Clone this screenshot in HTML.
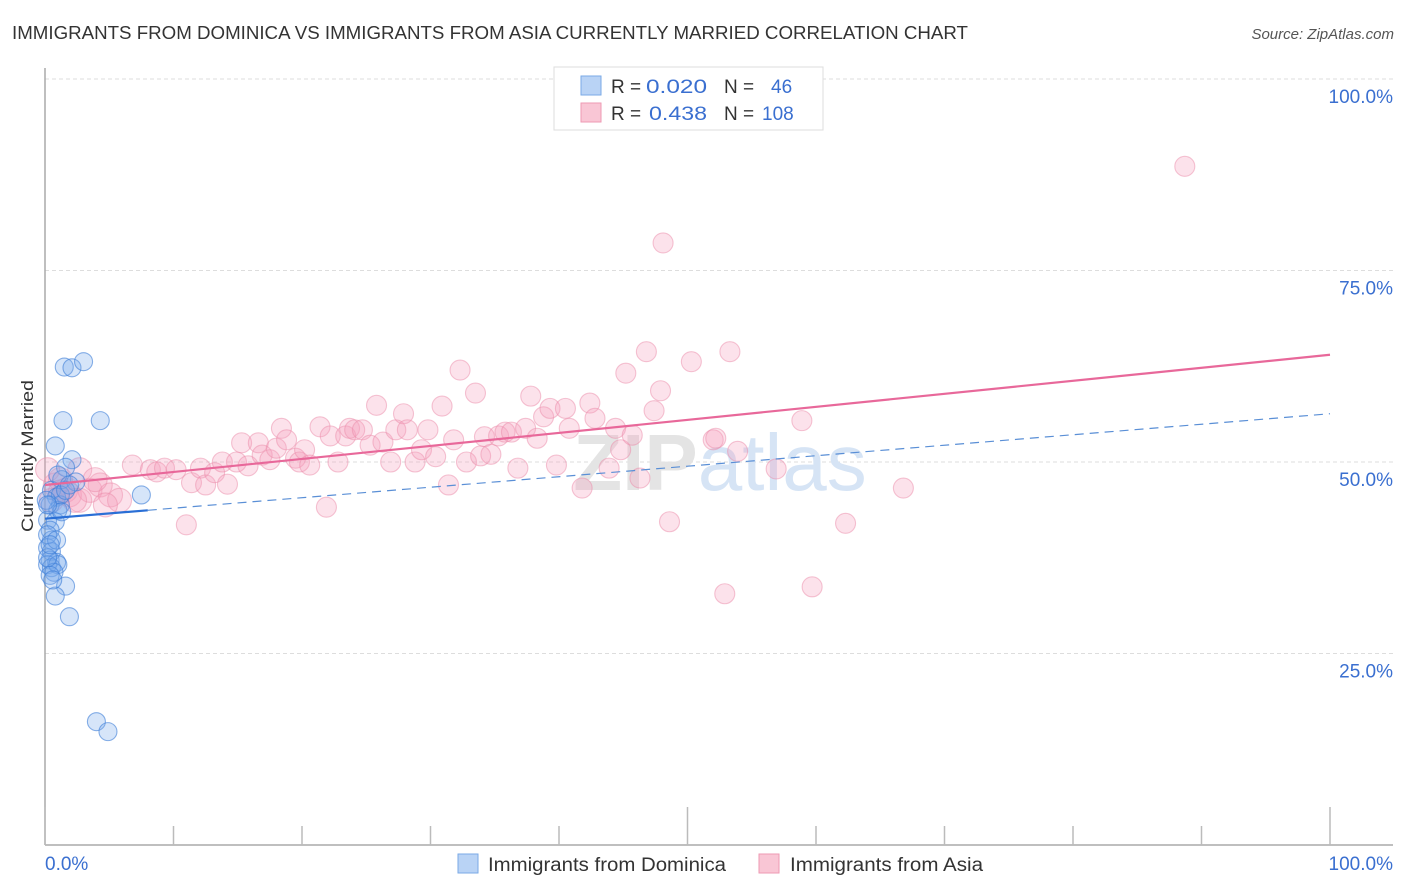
<!DOCTYPE html>
<html><head><meta charset="utf-8"><style>
body{margin:0;background:#fff;font-family:"Liberation Sans",sans-serif}
svg{display:block}
</style></head><body>
<svg id="chart" width="1406" height="892" viewBox="0 0 1406 892" xmlns="http://www.w3.org/2000/svg">
<text x="12" y="39" font-size="18" fill="#333" textLength="956" lengthAdjust="spacingAndGlyphs">IMMIGRANTS FROM DOMINICA VS IMMIGRANTS FROM ASIA CURRENTLY MARRIED CORRELATION CHART</text>
<text x="1394" y="39" font-size="15" fill="#555" font-style="italic" text-anchor="end">Source: ZipAtlas.com</text>
<text transform="translate(33,456) rotate(-90)" font-size="17" fill="#333" text-anchor="middle" textLength="152" lengthAdjust="spacingAndGlyphs">Currently Married</text>
<g id="grid"></g>
<text x="720" y="490" font-size="80" text-anchor="middle" fill="#e4e4e4" font-weight="bold">ZIP<tspan fill="#d6e4f5" font-weight="normal">atlas</tspan></text>
<g id="marks"></g>
<g id="lines"></g>
<g>
<rect x="554" y="67" width="269" height="63" fill="#fff" stroke="#ddd"/>
<rect x="581" y="76" width="20" height="19" fill="#b9d3f5" stroke="#7aa9e6"/>
<rect x="581" y="103" width="20" height="19" fill="#f9c6d5" stroke="#ee9ab3"/>
<text x="611" y="93" font-size="19" fill="#333">R = <tspan x="646" fill="#3a6fd0" textLength="61" lengthAdjust="spacingAndGlyphs">0.020</tspan><tspan x="724">N = </tspan><tspan x="771" fill="#3a6fd0">46</tspan></text>
<text x="611" y="120" font-size="19" fill="#333">R = <tspan fill="#3a6fd0" x="649" textLength="58" lengthAdjust="spacingAndGlyphs">0.438</tspan><tspan x="724">N = </tspan><tspan x="762" fill="#3a6fd0">108</tspan></text>
</g>
<g>
<rect x="458" y="854" width="20" height="19" fill="#b9d3f5" stroke="#7aa9e6"/>
<text x="488" y="871" font-size="19" fill="#333" textLength="238" lengthAdjust="spacingAndGlyphs">Immigrants from Dominica</text>
<rect x="759" y="854" width="20" height="19" fill="#f9c6d5" stroke="#ee9ab3"/>
<text x="790" y="871" font-size="19" fill="#333" textLength="193" lengthAdjust="spacingAndGlyphs">Immigrants from Asia</text>
</g>
</svg>
<script>
const yTicks=[25,50,75,100];
const yTickLabels=["25.0%","50.0%","75.0%","100.0%"];
const xTicks=[0,10,20,30,40,50,60,70,80,90,100];
const blueX=[1.5,2.1,3.0,1.4,4.3,0.8,2.1,1.6,1.3,2.4,0.5,0.9,1.2,0.4,1.0,0.2,0.8,0.4,0.5,0.2,0.5,0.4,0.9,0.2,0.5,1.0,0.7,0.4,1.6,0.8,1.9,4.0,4.9,7.5,0.2,1.2,0.2,0.6,0.1,1.3,0.9,0.4,1.6,1.0,0.2,1.9];
const blueY=[62.4,62.3,63.1,55.4,55.4,52.1,50.3,49.3,47.7,47.4,46.3,45.4,44.4,44.4,43.7,42.4,42.2,41.1,39.8,38.8,38.3,37.2,36.9,36.6,36.2,36.6,35.6,35.2,33.8,32.5,29.8,16.1,14.8,45.7,40.5,45.7,37.5,34.6,45.0,43.5,39.8,39.2,46.3,48.3,44.4,47.0];
const pinkX=[0.8,1.2,1.6,1.9,2.7,3.5,4.3,5.1,5.8,2.7,6.8,8.2,8.7,9.3,10.2,11.0,11.4,12.1,12.5,13.2,13.8,14.2,14.9,15.3,15.8,16.6,16.9,17.5,18.0,18.4,18.8,19.5,19.8,20.2,20.6,21.4,21.9,22.2,22.8,23.4,23.7,24.1,24.7,25.3,25.8,26.3,26.9,27.3,27.9,28.2,28.8,29.3,29.8,30.4,30.9,31.4,31.8,32.3,32.8,33.5,33.9,34.2,34.7,35.3,35.8,36.3,36.8,37.4,37.8,38.3,38.8,39.3,39.8,40.5,40.8,41.8,42.4,42.8,43.9,44.4,44.8,45.2,45.7,46.3,46.8,47.4,47.9,48.1,48.6,50.3,52.0,52.2,52.9,53.3,53.9,56.9,58.9,59.7,62.3,66.8,88.7,0.2,0.5,1.2,2.3,3.9,4.7];
const pinkY=[47.0,47.7,46.3,45.7,45.0,46.3,47.0,45.7,45.0,49.0,49.6,49.0,48.7,49.2,49.0,41.8,47.3,49.2,47.0,48.6,50.0,47.1,50.0,52.5,49.5,52.5,50.9,50.3,51.8,54.4,52.9,50.5,50.0,51.6,49.6,54.6,44.1,53.4,50.0,53.4,54.4,54.2,54.2,52.2,57.4,52.6,50.0,54.2,56.3,54.2,50.0,51.6,54.2,50.7,57.3,47.0,52.9,62.0,50.0,59.0,50.8,53.3,51.0,53.4,53.9,53.9,49.2,54.4,58.6,53.1,55.9,57.0,49.6,57.0,54.4,46.6,57.7,55.7,49.2,54.4,51.6,61.6,53.5,47.9,64.4,56.7,59.3,78.6,42.2,63.1,52.9,53.1,32.8,64.4,51.4,49.1,55.4,33.7,42.0,46.6,88.6,49.0,45.0,46.1,45.0,47.7,44.4];
const blueFit=[42.6,0.137];
const pinkFit=[47.0,0.17];
const X0=45,X1=1330,Y0=845,Y100=79;
const sx=v=>X0+(X1-X0)*v/100;
const sy=v=>Y0-(Y0-Y100)*v/100;
const NS="http://www.w3.org/2000/svg";
function mk(tag,attrs,parent){const e=document.createElementNS(NS,tag);for(const k in attrs)e.setAttribute(k,attrs[k]);parent.appendChild(e);return e;}
const grid=document.getElementById('grid');
yTicks.forEach((t,i)=>{
 const l=mk('line',{x1:45,x2:1393,y1:sy(t),y2:sy(t),stroke:'#ddd','stroke-dasharray':'4,3'},grid);
 
 
 const tx=mk('text',{x:1393,y:sy(t)+24,'font-size':19,fill:'#3a6fd0','text-anchor':'end'},grid);
 tx.textContent=yTickLabels[i];
 
 
});
const ax=mk('line',{x1:45,x2:1393,y1:845,y2:845,stroke:'#aaa','stroke-width':1.5},grid);


const ay=mk('line',{x1:45,x2:45,y1:68,y2:845,stroke:'#aaa','stroke-width':1.5},grid);


xTicks.forEach(t=>{
 const tk=mk('line',{x1:sx(t),x2:sx(t),y1:(t%50===0)?807:826,y2:845,stroke:'#bbb','stroke-width':1.5},grid);
 
 
});
const xl0=mk('text',{x:45,y:870,'font-size':19,fill:'#3a6fd0'},grid);xl0.textContent='0.0%';


const xl1=mk('text',{x:1393,y:870,'font-size':19,fill:'#3a6fd0','text-anchor':'end'},grid);xl1.textContent='100.0%';


const marks=document.getElementById('marks');
pinkX.forEach((x,i)=>{
 const c=mk('circle',{cx:sx(x),cy:sy(pinkY[i]),r:x<6?12:10,fill:'rgba(245,160,188,0.3)',stroke:'rgba(235,140,170,0.5)','stroke-width':1.1},marks);
 
 
});
blueX.forEach((x,i)=>{
 const c=mk('circle',{cx:sx(x),cy:sy(blueY[i]),r:9,fill:'rgba(120,170,235,0.3)',stroke:'rgba(60,125,215,0.6)','stroke-width':1.1},marks);
 
 
});
const lines=document.getElementById('lines');
const bs=mk('line',{x1:sx(0),y1:sy(blueFit[0]),x2:sx(8),y2:sy(blueFit[0]+blueFit[1]*8),stroke:'#2a6fd6','stroke-width':2.2},lines);


const bd=mk('line',{x1:sx(8),y1:sy(blueFit[0]+blueFit[1]*8),x2:sx(100),y2:sy(blueFit[0]+blueFit[1]*100),stroke:'#5a8fd6','stroke-width':1.2,'stroke-dasharray':'9,6'},lines);


const pl=mk('line',{x1:sx(0),y1:sy(pinkFit[0]),x2:sx(100),y2:sy(pinkFit[0]+pinkFit[1]*100),stroke:'#e8689a','stroke-width':2.2},lines);


</script>
</body></html>
